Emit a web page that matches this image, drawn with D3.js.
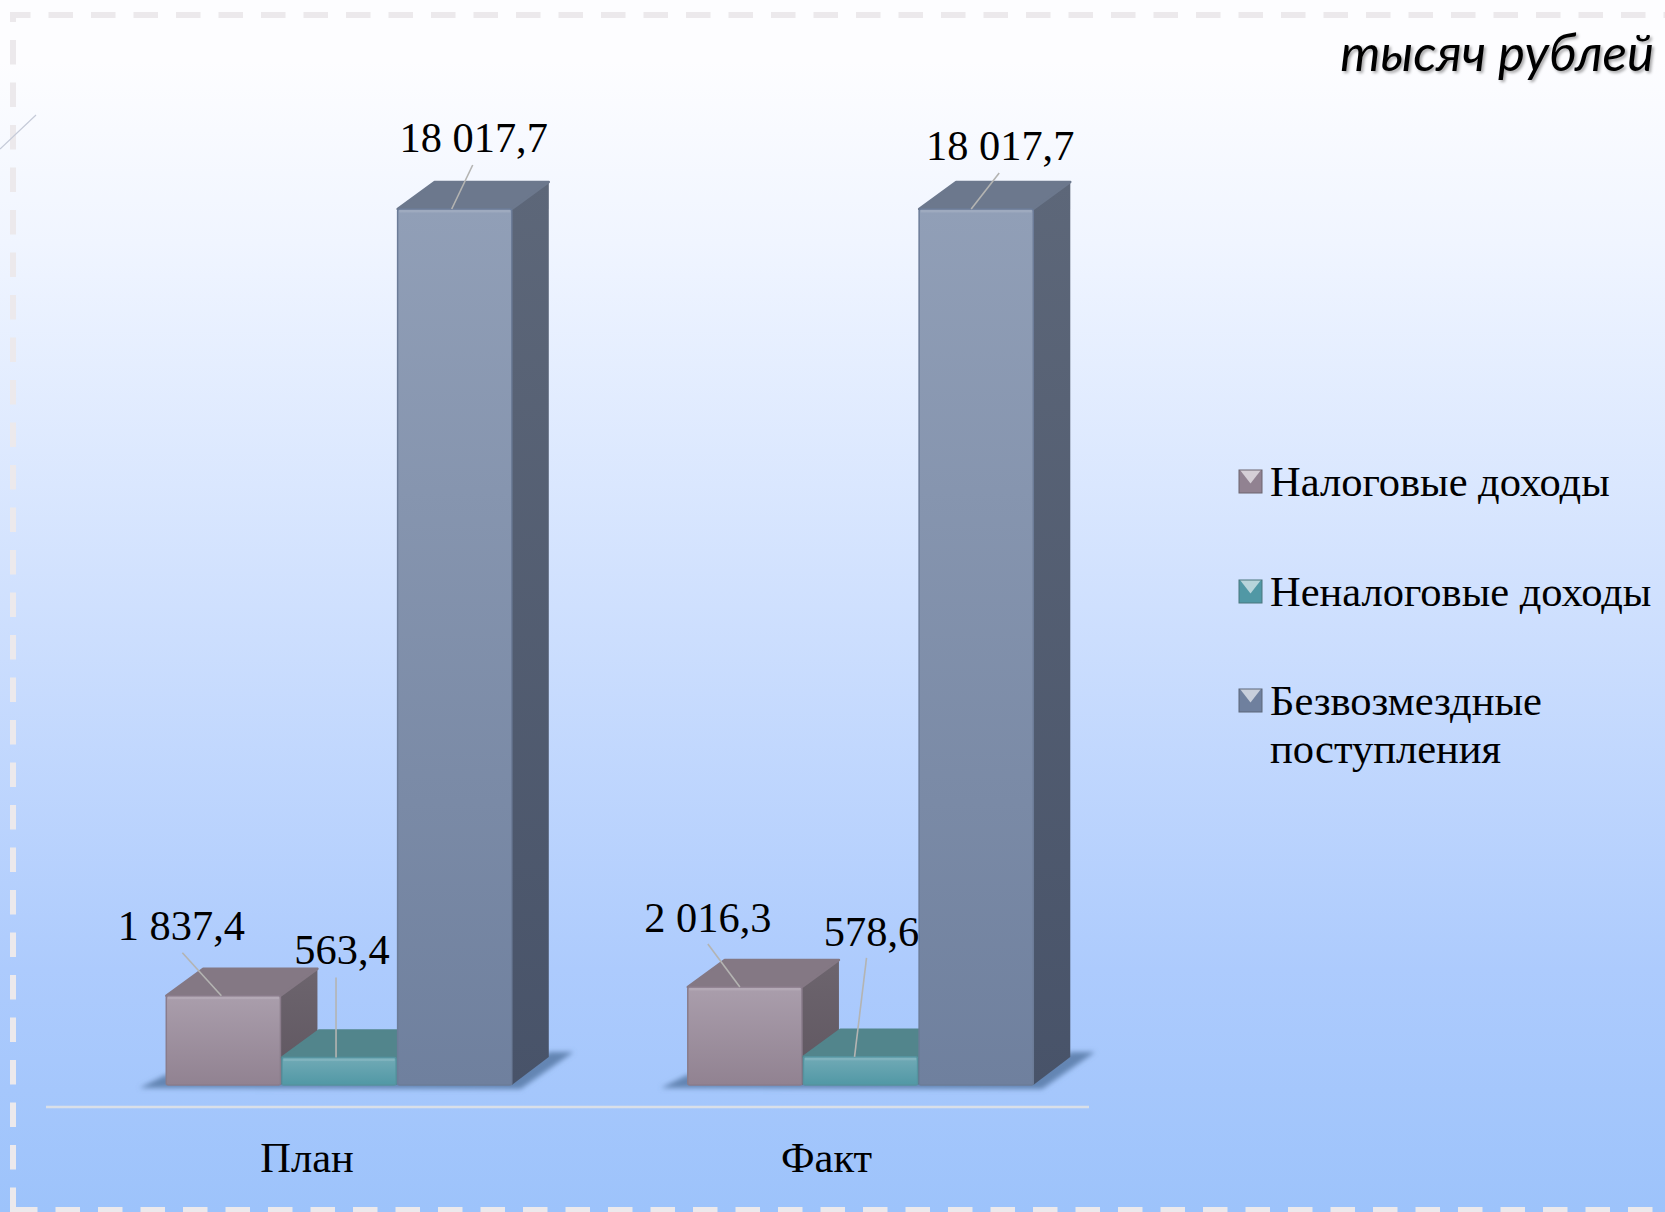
<!DOCTYPE html>
<html>
<head>
<meta charset="utf-8">
<script src="https://cdn.jsdelivr.net/npm/d3@7"></script>
<style>
  html, body { margin: 0; padding: 0; background: #fff; }
  svg { display: block; }
  text { font-family: "Liberation Serif", serif; fill: #000; }
</style>
</head>
<body>
<div id="chart"></div>
<script>
const categories = ["План", "Факт"];
const seriesNames = ["Налоговые доходы", "Неналоговые доходы", "Безвозмездные поступления"];
const planValues = [1837.4, 563.4, 18017.7];
const factValues = [2016.3, 578.6, 18017.7];
const valueLabels = [
  ["1 837,4", "563,4", "18 017,7"],
  ["2 016,3", "578,6", "18 017,7"]
];
const unitLabel = "тысяч рублей";

// label and leader offsets from the top centre of each bar
const labelOffsets = [
  [[-42, -56], [3, -94], [19, -57]],
  [[-37, -55], [11, -111], [24, -49]]
];
const leaderOffsets = [
  [[-41, -43, -2], [-3, -80, -3], [18, -44, -3]],
  [[-37, -43, -5], [6, -99, -6], [23, -36, -5]]
];

const palette = [
  { front: ["#aa9eac", "#918291"], top: "#847884", side: ["#6d656e", "#5f5660"], edge: "#8a7c8b" },
  { front: ["#71aab6", "#5198a5"], top: "#52858c", side: ["#4a767d", "#44707a"], edge: "#55939f" },
  { front: ["#919fb7", "#6f809e"], top: "#6c788d", side: ["#5d6779", "#485369"], edge: "#6c7c98" }
];

const width = 1665;
const height = 1212;
const depthX = 37;
const depthY = 28;
const baseY = 1085;
const axisY = 1107;

const svg = d3.select("#chart")
  .append("svg")
  .attr("width", width)
  .attr("height", height);

const defs = svg.append("defs");

const bg = defs.append("linearGradient")
  .attr("id", "bg")
  .attr("x1", 0).attr("y1", 0).attr("x2", 0).attr("y2", 1);
[[0.05, "#fdfdff"], [0.2, "#f0f5ff"], [0.5, "#cfe0fe"], [0.8, "#adcbfd"], [1, "#9dc3fb"]].forEach(s => {
  bg.append("stop").attr("offset", s[0]).attr("stop-color", s[1]);
});

function vGrad(id, colors) {
  const g = defs.append("linearGradient")
    .attr("id", id)
    .attr("x1", 0).attr("y1", 0).attr("x2", 0).attr("y2", 1);
  g.append("stop").attr("offset", 0).attr("stop-color", colors[0]);
  g.append("stop").attr("offset", 1).attr("stop-color", colors[1]);
}
palette.forEach((p, i) => {
  vGrad("front" + i, p.front);
  vGrad("side" + i, p.side);
});

defs.append("filter").attr("id", "blur")
  .attr("x", "-10%").attr("y", "-50%").attr("width", "120%").attr("height", "200%")
  .append("feGaussianBlur").attr("stdDeviation", 2.5);

const textShadow = defs.append("filter").attr("id", "textShadow");
textShadow.append("feDropShadow")
  .attr("dx", 2).attr("dy", 2).attr("stdDeviation", 1.5)
  .attr("flood-color", "#000").attr("flood-opacity", 0.35);

svg.append("rect")
  .attr("width", width)
  .attr("height", height)
  .attr("fill", "url(#bg)");

// dashed frame, runs off the right edge
svg.append("path")
  .attr("d", "M13,1212 V15 H1665 M13,1210 H1665")
  .attr("fill", "none")
  .attr("stroke", "#ece9ec")
  .attr("stroke-width", 6)
  .attr("stroke-dasharray", "24.5 18");

svg.append("line")
  .attr("x1", 0).attr("y1", 149)
  .attr("x2", 36).attr("y2", 115)
  .attr("stroke", "#c5cad8")
  .attr("stroke-width", 1.2);

// scales
const xOuter = d3.scaleBand()
  .domain(categories)
  .range([46, 1089])
  .paddingInner(0.3346)
  .paddingOuter(0.1673)
  .align(0.685);

const xInner = d3.scaleBand()
  .domain(seriesNames)
  .range([0, xOuter.bandwidth()]);

const y = d3.scaleLinear()
  .domain([0, 18017.7])
  .range([baseY, 209]);

// category axis
const axis = svg.append("g")
  .attr("transform", `translate(0, ${axisY})`)
  .call(d3.axisBottom(d3.scalePoint().domain(categories).range([xOuter(categories[0]) + 141, xOuter(categories[1]) + 139])).tickSize(0).tickPadding(35));
axis.select(".domain").remove();
axis.append("line")
  .attr("x1", xOuter.range()[0]).attr("x2", xOuter.range()[1])
  .attr("stroke", "#d9dfe8")
  .attr("stroke-width", 2.5);
axis.selectAll(".tick text")
  .attr("font-family", "Liberation Serif")
  .attr("font-size", 42.5)
  .attr("fill", "#000");

const rows = [planValues, factValues];

// floor shadows
categories.forEach(c => {
  const x0 = xOuter(c);
  const x1 = x0 + xOuter.bandwidth();
  svg.append("polygon")
    .attr("points", [
      [x0 - 26, baseY + 3], [x0, baseY - 10], [x1, baseY - 10],
      [x1 + depthX, baseY - depthY - 5], [x1 + depthX + 24, baseY - depthY - 5], [x1 + 8, baseY + 4]
    ].join(" "))
    .attr("fill", "#6485b3")
    .attr("filter", "url(#blur)");
});

// bars, painted series by series so the later ones overlap the side faces
seriesNames.forEach((name, s) => {
  categories.forEach((c, k) => {
    const value = rows[k][s];
    const gap = 1.5;
    const x0 = xOuter(c) + xInner(name) + gap / 2;
    const w = xInner.bandwidth() - gap;
    const top = y(value);
    const g = svg.append("g");
    g.append("polygon")
      .attr("points", [[x0 + w, top], [x0 + w + depthX, top - depthY], [x0 + w + depthX, baseY - depthY], [x0 + w, baseY]].join(" "))
      .attr("fill", `url(#side${s})`);
    g.append("polygon")
      .attr("points", [[x0, top], [x0 + depthX, top - depthY + 1], [x0 + w + depthX, top - depthY + 1], [x0 + w, top]].join(" "))
      .attr("fill", palette[s].top)
      .attr("stroke", palette[s].top)
      .attr("stroke-linejoin", "round")
      .attr("stroke-width", 2.5);
    g.append("rect")
      .attr("x", x0).attr("y", top)
      .attr("width", w).attr("height", baseY - top)
      .attr("rx", 2)
      .attr("fill", `url(#front${s})`)
      .attr("stroke", palette[s].edge)
      .attr("stroke-width", 1.5);
    // soft bevel along the top of the front face
    g.append("rect")
      .attr("x", x0 + 1.5).attr("y", top + 1)
      .attr("width", w - 3).attr("height", 2.5)
      .attr("fill", "#fff")
      .attr("opacity", 0.12);
  });
});

// leaders and value labels
categories.forEach((c, k) => {
  seriesNames.forEach((name, s) => {
    const cx = xOuter(c) + xInner(name) + xInner.bandwidth() / 2;
    const top = y(rows[k][s]);
    const lead = leaderOffsets[k][s];
    svg.append("line")
      .attr("x1", cx + lead[0]).attr("y1", top + lead[1])
      .attr("x2", cx + lead[2]).attr("y2", top)
      .attr("stroke", "#b4b4b2")
      .attr("stroke-width", 1.6);
    const off = labelOffsets[k][s];
    svg.append("text")
      .attr("x", cx + off[0])
      .attr("y", top + off[1])
      .attr("text-anchor", "middle")
      .attr("font-size", 42.4)
      .text(valueLabels[k][s]);
  });
});

// legend
const legendX = 1239;
const legendBoxes = [470, 580, 689];
const legendSize = 23;
seriesNames.forEach((name, s) => {
  const ly = legendBoxes[s];
  const g = svg.append("g").attr("transform", `translate(${legendX}, ${ly})`);
  const c = legendSize / 2;
  g.append("rect")
    .attr("width", legendSize).attr("height", legendSize)
    .attr("fill", palette[s].front[1]);
  g.append("polygon")
    .attr("points", [[1, 0], [legendSize - 1, 0], [c, c + 2]].join(" "))
    .attr("fill", d3.interpolateRgb(palette[s].front[0], "#fff")(0.5));
  g.append("rect")
    .attr("width", legendSize).attr("height", legendSize)
    .attr("fill", "none")
    .attr("stroke", palette[s].side[0])
    .attr("stroke-width", 1);
  const words = s === 2 ? name.split(" ") : [name];
  words.forEach((w, i) => {
    svg.append("text")
      .attr("x", 1270)
      .attr("y", ly + 26 + i * 48)
      .attr("font-size", 42.5)
      .text(w);
  });
});

// unit caption
svg.append("text")
  .attr("x", 1654)
  .attr("y", 71)
  .attr("text-anchor", "end")
  .attr("font-style", "italic")
  .attr("font-size", 51)
  .style("font-family", "Lato")
  .attr("filter", "url(#textShadow)")
  .text(unitLabel);
</script>
</body>
</html>
